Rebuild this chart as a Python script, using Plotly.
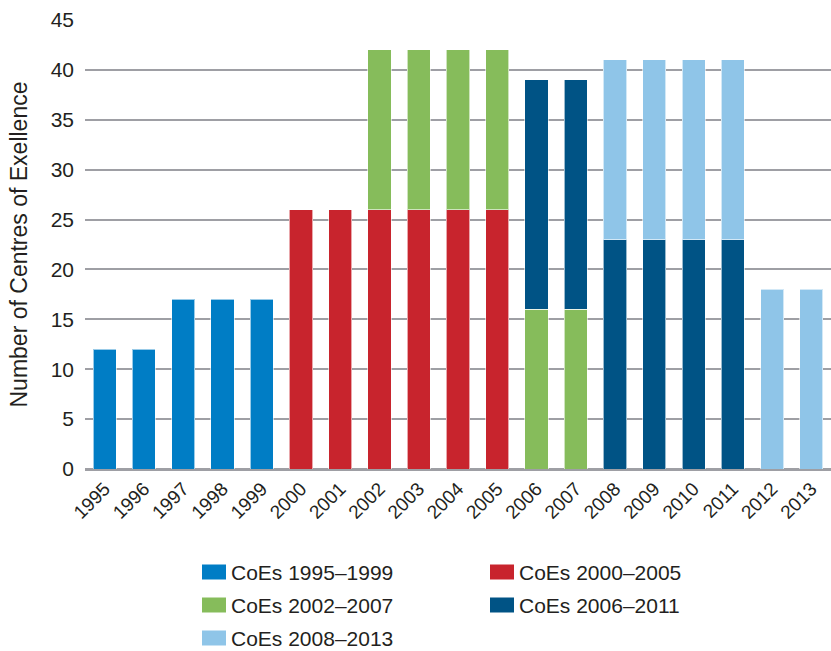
import plotly.graph_objects as go

years = [str(y) for y in range(1995, 2014)]

# Centres active in each year, split by funding cohort
coes_1995_1999 = [12, 12, 17, 17, 17, 0, 0, 0, 0, 0, 0, 0, 0, 0, 0, 0, 0, 0, 0]
coes_2000_2005 = [0, 0, 0, 0, 0, 26, 26, 26, 26, 26, 26, 0, 0, 0, 0, 0, 0, 0, 0]
coes_2002_2007 = [0, 0, 0, 0, 0, 0, 0, 16, 16, 16, 16, 16, 16, 0, 0, 0, 0, 0, 0]
coes_2006_2011 = [0, 0, 0, 0, 0, 0, 0, 0, 0, 0, 0, 23, 23, 23, 23, 23, 23, 0, 0]
coes_2008_2013 = [0, 0, 0, 0, 0, 0, 0, 0, 0, 0, 0, 0, 0, 18, 18, 18, 18, 18, 18]

series_names = ["CoEs 1995–1999", "CoEs 2000–2005", "CoEs 2002–2007",
                "CoEs 2006–2011", "CoEs 2008–2013"]
series_values = [coes_1995_1999, coes_2000_2005, coes_2002_2007,
                 coes_2006_2011, coes_2008_2013]
series_colors = ["#007dc5", "#c8242d", "#86bc5b", "#005385", "#8fc5e8"]

W, H = 831, 651
ML, MR, MT, MB = 85, 0, 20, 182
plot_w = W - ML - MR
plot_h = H - MT - MB


def px_x(px):
    return (px - ML) / plot_w


def px_y(py):
    return (H - MB - py) / plot_h


fig = go.Figure()
for name, vals, color in zip(series_names, series_values, series_colors):
    fig.add_trace(go.Bar(
        x=years,
        y=[v if v else None for v in vals],
        name=name,
        marker=dict(color=color, line=dict(color="rgba(255,255,255,0.6)", width=1)),
        showlegend=False,
    ))

font_family = "Liberation Sans, Arial, sans-serif"
text_color = "#231f20"

# Two-column key beneath the chart
col_x = [202, 490]
row_y = [572, 605, 638]
for i, (name, color) in enumerate(zip(series_names, series_colors)):
    cx = col_x[i % 2]
    cy = row_y[i // 2]
    fig.add_shape(
        type="rect", xref="paper", yref="paper",
        x0=px_x(cx), x1=px_x(cx + 24),
        y0=px_y(cy + 7.5), y1=px_y(cy - 7.5),
        fillcolor=color, line=dict(width=0),
    )
    fig.add_annotation(
        xref="paper", yref="paper",
        x=px_x(cx + 27), y=px_y(cy),
        text=name, showarrow=False,
        xanchor="left", yanchor="middle",
        font=dict(size=21, color=text_color, family=font_family),
    )

fig.update_layout(
    barmode="stack",
    bargap=0.41,
    width=W,
    height=H,
    margin=dict(l=ML, r=MR, t=MT, b=MB),
    paper_bgcolor="white",
    plot_bgcolor="white",
    font=dict(family=font_family, color=text_color, size=20),
    showlegend=False,
    xaxis=dict(
        type="category",
        tickangle=-45,
        tickfont=dict(size=19),
        showgrid=False,
        showline=False,
        ticks="",
        ticklabelstandoff=4,
        automargin=False,
    ),
    yaxis=dict(
        range=[0, 45],
        dtick=5,
        showgrid=True,
        gridcolor="#9e9fa4",
        gridwidth=1.5,
        zeroline=True,
        zerolinecolor="#9e9fa4",
        zerolinewidth=2.5,
        ticks="",
        ticklabelstandoff=10,
        tickfont=dict(size=21),
        title=dict(text="Number of Centres of Exellence", font=dict(size=23), standoff=16),
        automargin=False,
    ),
)

fig.write_html("out.html")
